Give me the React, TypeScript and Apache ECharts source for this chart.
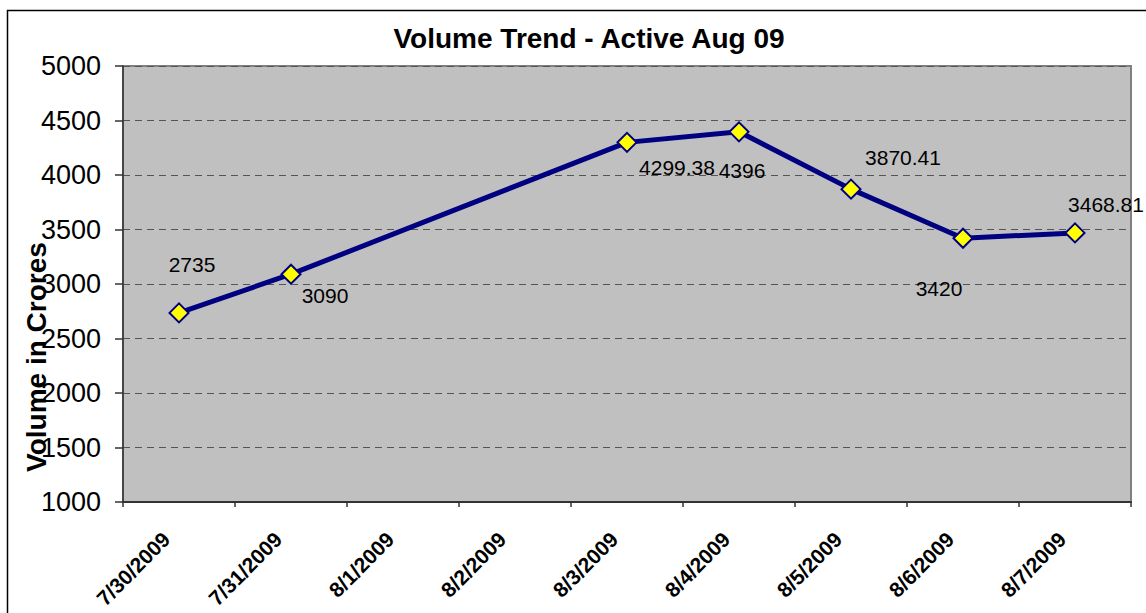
import React, { useEffect, useRef } from "react";
import * as echarts from "echarts";

const categories = [
  "7/30/2009",
  "7/31/2009",
  "8/1/2009",
  "8/2/2009",
  "8/3/2009",
  "8/4/2009",
  "8/5/2009",
  "8/6/2009",
  "8/7/2009",
];
const volumes: (number | null)[] = [2735, 3090, null, null, 4299.38, 4396, 3870.41, 3420, 3468.81];
const labelOffsets: [number, number][] = [
  [13, -48],
  [34, 21],
  [0, 0],
  [0, 0],
  [50, 25],
  [3, 39],
  [52, -32],
  [-24, 50],
  [31, -28],
];

const FONT = '"Liberation Sans", Arial, Helvetica, sans-serif';

export default function App() {
  const ref = useRef<HTMLDivElement>(null);
  useEffect(() => {
    if (!ref.current) return;
    const chart = echarts.init(ref.current, undefined, { renderer: "svg" });
    const data = volumes.map((v, i) => ({
      value: v,
      label: { offset: labelOffsets[i] },
    }));
    chart.setOption({
      animation: false,
      backgroundColor: "#ffffff",
      title: {
        text: "Volume Trend - Active Aug 09",
        left: 584,
        top: 19,
        textAlign: "center",
        textStyle: { fontFamily: FONT, fontSize: 28, fontWeight: "bold", color: "#000" },
      },
      graphic: [
        {
          type: "rect",
          shape: { x: 7.5, y: 10.5, width: 1200, height: 700 },
          style: { fill: "none", stroke: "#000", lineWidth: 1.5 },
          silent: true,
          z: -10,
        },
        {
          type: "text",
          x: 36,
          y: 357,
          rotation: Math.PI / 2,
          style: {
            text: "Volume in Crores",
            fontFamily: FONT,
            fontSize: 28,
            fontWeight: "bold",
            fill: "#000",
            align: "center",
            verticalAlign: "middle",
          },
          z: 100,
        },
      ],
      grid: {
        left: 123,
        right: 15,
        top: 66,
        bottom: 111,
        show: true,
        backgroundColor: "#C0C0C0",
        borderColor: "#808080",
        borderWidth: 2,
      },
      xAxis: {
        type: "category",
        data: categories,
        boundaryGap: true,
        axisLine: { lineStyle: { color: "#333", width: 2 } },
        axisTick: { show: true, length: 5, lineStyle: { color: "#333", width: 1.5 } },
        axisLabel: {
          rotate: 45,
          interval: 0,
          margin: 21,
          padding: [0, 18, 0, 0],
          fontFamily: FONT,
          fontSize: 21,
          fontWeight: "bold",
          color: "#000",
        },
      },
      yAxis: {
        type: "value",
        min: 1000,
        max: 5000,
        interval: 500,
        axisLine: { show: true, lineStyle: { color: "#333", width: 1.5 } },
        axisTick: { show: true, length: 8, lineStyle: { color: "#333", width: 1.5 } },
        axisLabel: {
          margin: 22,
          fontFamily: FONT,
          fontSize: 27,
          color: "#000",
          formatter: (v: number) => String(v),
        },
        splitLine: { show: true, lineStyle: { color: "#555", type: [7, 5], width: 1 } },
      },
      series: [
        {
          type: "line",
          data,
          connectNulls: true,
          symbol: "diamond",
          symbolSize: 19,
          lineStyle: { color: "#000080", width: 5 },
          itemStyle: { color: "#FFFF00", borderColor: "#000080", borderWidth: 2 },
          label: {
            show: true,
            position: "inside",
            fontFamily: FONT,
            fontSize: 21,
            color: "#000",
          },
          z: 5,
        },
      ],
    });
    return () => chart.dispose();
  }, []);
  return (
    <div
      ref={ref}
      style={{ position: "absolute", left: 0, top: 0, width: 1146, height: 613 }}
    />
  );
}
